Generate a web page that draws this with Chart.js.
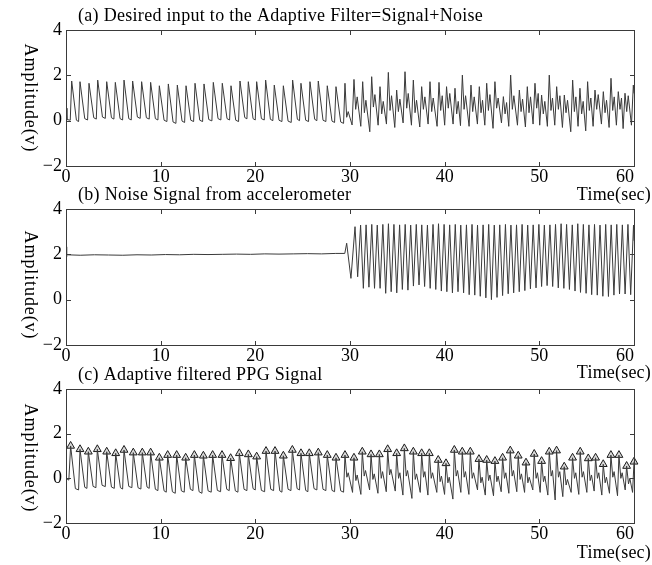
<!DOCTYPE html>
<html><head><meta charset="utf-8">
<script src="https://cdn.jsdelivr.net/npm/chart.js@4.4.1/dist/chart.umd.min.js"></script>
<style>
html,body{margin:0;padding:0;background:#fff;}
body{width:652px;height:565px;position:relative;overflow:hidden;}
canvas{position:absolute;left:0;}
</style>
</head><body>
<canvas id="ca" width="652" height="210" style="top:0px"></canvas>
<canvas id="cb" width="652" height="210" style="top:179px"></canvas>
<canvas id="cc" width="652" height="206" style="top:359px"></canvas>
<script>
// ---------- tick labels / texts ----------
const xTicks = [0, 10, 20, 30, 40, 50, 60];
const yTicks = [-2, 0, 2, 4];
const panelTitles = [
  "(a) Desired input to the Adaptive Filter=Signal+Noise",
  "(b) Noise Signal from accelerometer",
  "(c) Adaptive filtered PPG Signal"
];
const xTitle = "Time(sec)";
const yTitle = "Amplitude(v)";

// ---------- panel (a): desired input = signal + noise ----------
const aEdgeTime = [0, 0.10, 0.45, 60.00];
const aEdgeAmp  = [0.55, 0.05, 0.02, 1.20];
const aPeakTime = [0.60, 1.48, 2.43, 3.35, 4.30, 5.21, 6.13, 7.04, 7.99, 8.94, 9.86, 10.81, 11.76, 12.68, 13.63, 14.58, 15.56, 16.51, 17.43, 18.38, 19.26, 20.14, 21.09, 22.00, 22.96, 23.94, 24.82, 25.77, 26.65, 27.60, 28.52, 29.47,
  30.42, 31.34, 32.29, 33.17, 34.05, 34.93, 35.81, 36.69, 37.57, 38.45, 39.40, 40.20, 41.09, 41.87, 42.78, 43.66, 44.44, 45.31, 46.20, 46.97, 47.89, 48.73, 49.54, 50.24, 51.05, 51.83, 52.64, 53.52, 54.29, 55.10, 55.88, 56.76, 57.57, 58.34, 59.05, 59.93];
const aPeakAmp = [1.75, 1.72, 1.65, 1.79, 1.72, 1.69, 1.79, 1.75, 1.72, 1.69, 1.54, 1.62, 1.57, 1.54, 1.65, 1.62, 1.69, 1.65, 1.54, 1.75, 1.72, 1.72, 1.79, 1.57, 1.54, 1.79, 1.65, 1.72, 1.75, 1.54, 1.50, 1.65,
  1.82, 1.72, 1.94, 1.50, 2.13, 1.35, 2.16, 1.79, 1.50, 1.72, 1.69, 1.50, 1.43, 2.01, 1.57, 1.50, 1.65, 1.72, 1.06, 2.01, 1.35, 1.50, 1.65, 1.13, 2.01, 1.50, 1.13, 1.79, 1.43, 1.72, 1.35, 1.28, 1.87, 1.28, 1.21, 1.57];
const aFootTime = [1.10, 1.98, 2.93, 3.85, 4.80, 5.71, 6.63, 7.54, 8.49, 9.44, 10.36, 11.31, 12.26, 13.18, 14.13, 15.08, 16.06, 17.01, 17.93, 18.88, 19.76, 20.64, 21.59, 22.50, 23.46, 24.44, 25.32, 26.27, 27.15, 28.10, 29.02];
const aFootAmp  = [0.02, 0.09, 0.13, 0.16, 0.13, 0.09, 0.09, 0.16, 0.13, 0.09, 0.02, -0.06, -0.02, 0.02, 0.02, 0.05, 0.09, 0.09, 0.02, 0.14, 0.09, 0.09, 0.06, 0.02, -0.02, 0.06, 0.02, 0.06, 0.02, -0.02, -0.06];
const aTroughTime = [1.33, 2.28, 3.20, 4.15, 5.06, 5.98, 6.89, 7.84, 8.79, 9.71, 10.66, 11.61, 12.53, 13.48, 14.43, 15.41, 16.36, 17.28, 18.23, 19.11, 19.99, 20.94, 21.85, 22.81, 23.79, 24.67, 25.62, 26.50, 27.45, 28.37, 29.32,
  30.22, 31.14, 32.09, 32.97, 33.85, 34.73, 35.61, 36.49, 37.37, 38.25, 39.20, 40.00, 40.89, 41.67, 42.58, 43.46, 44.24, 45.11, 46.00, 46.77, 47.69, 48.53, 49.34, 50.04, 50.85, 51.63, 52.44, 53.32, 54.09, 54.90, 55.68, 56.56, 57.37, 58.14, 58.85, 59.73];
const aTroughAmp = [-0.04, 0.03, 0.07, 0.10, 0.07, 0.03, 0.03, 0.10, 0.07, 0.03, -0.04, -0.12, -0.08, -0.04, -0.04, -0.01, 0.03, 0.03, -0.04, 0.08, 0.03, 0.03, 0.00, -0.04, -0.08, 0.00, -0.04, 0.00, -0.04, -0.08, -0.12,
  -0.19, -0.25, -0.49, -0.20, -0.15, -0.30, -0.10, -0.20, -0.28, -0.15, -0.25, -0.20, -0.15, -0.22, -0.25, -0.15, -0.20, -0.34, -0.10, -0.25, -0.20, -0.28, -0.15, -0.20, -0.25, -0.20, -0.30, -0.49, -0.25, -0.45, -0.25, -0.15, -0.30, -0.20, -0.35, -0.20];
const aDipTime = [29.65, 30.60, 31.52, 32.47, 33.35, 34.23, 35.11, 35.99, 36.87, 37.75, 38.63, 39.58, 40.38, 41.27, 42.05, 42.96, 43.84, 44.62, 45.49, 46.38, 47.15, 48.07, 48.91, 49.72, 50.42, 51.23, 52.01, 52.82, 53.70, 54.47, 55.28, 56.06, 56.94, 57.75, 58.52, 59.23];
const aDipAmp  = [0.15, 0.50, 0.35, 0.60, 0.30, 0.45, 0.40, 0.55, 0.35, 0.50, 0.40, 0.45, 0.55, 0.30, 0.50, 0.40, 0.35, 0.45, 0.55, 0.30, 0.50, 0.40, 0.35, 0.55, 0.30, 0.45, 0.50, 0.35, 0.40, 0.30, 0.45, 0.50, 0.35, 0.45, 0.50, 0.40];
const aBumpTime = [29.81, 30.76, 31.68, 32.63, 33.51, 34.39, 35.27, 36.15, 37.03, 37.91, 38.79, 39.74, 40.54, 41.43, 42.21, 43.12, 44.00, 44.78, 45.65, 46.54, 47.31, 48.23, 49.07, 49.88, 50.58, 51.39, 52.17, 52.98, 53.86, 54.63, 55.44, 56.22, 57.10, 57.91, 58.68, 59.39];
const aBumpAmp  = [0.40, 1.05, 0.90, 1.15, 0.85, 1.10, 0.95, 1.20, 0.90, 1.05, 1.00, 1.10, 1.20, 0.85, 1.10, 1.05, 0.90, 1.15, 1.00, 0.80, 1.10, 0.95, 1.05, 1.20, 0.85, 1.00, 1.10, 0.90, 1.05, 0.85, 1.00, 1.15, 0.90, 1.05, 1.00, 1.10];

// ---------- panel (b): accelerometer noise ----------
const bFlatTime = [0, 0.04, 0.10, 1.5, 3, 4.5, 6, 7.5, 9, 10.5, 12, 13.5, 15, 16.5, 18, 19.5, 21, 22.5, 24, 25.5, 27, 28.5, 29.45, 29.65, 30.10];
const bFlatAmp  = [2.33, 1.89, 1.98, 1.96, 1.98, 1.97, 1.96, 1.98, 1.97, 1.99, 1.98, 2.00, 1.99, 2.00, 2.01, 2.00, 2.02, 2.01, 2.02, 2.03, 2.02, 2.04, 2.04, 2.49, 0.94];
const bPeakTime = [30.53, 31.12, 31.70, 32.30, 32.88, 33.47, 34.06, 34.64, 35.24, 35.83, 36.41, 37.00, 37.58, 38.18, 38.77, 39.35, 39.94, 40.53, 41.12, 41.70, 42.30, 42.89, 43.47, 44.06, 44.65, 45.24, 45.82, 46.42, 47.00, 47.59, 48.18, 48.77, 49.35, 49.95, 50.53, 51.12, 51.71, 52.30, 52.88, 53.48, 54.06, 54.65, 55.24, 55.83, 56.41, 57.01, 57.59, 58.18, 58.77, 59.36, 59.95];
const bPeakAmp  = [3.22, 3.29, 3.30, 3.32, 3.29, 3.32, 3.35, 3.32, 3.30, 3.32, 3.29, 3.32, 3.30, 3.29, 3.32, 3.35, 3.32, 3.30, 3.32, 3.29, 3.30, 3.32, 3.29, 3.30, 3.32, 3.29, 3.30, 3.32, 3.29, 3.30, 3.32, 3.29, 3.30, 3.32, 3.29, 3.30, 3.32, 3.35, 3.32, 3.30, 3.35, 3.32, 3.30, 3.32, 3.29, 3.32, 3.30, 3.32, 3.30, 3.32, 3.29];
const bTroughTime = [30.81, 31.41, 32.00, 32.59, 33.18, 33.77, 34.35, 34.94, 35.53, 36.12, 36.70, 37.29, 37.88, 38.47, 39.06, 39.65, 40.23, 40.82, 41.41, 42.00, 42.59, 43.18, 43.76, 44.35, 44.94, 45.53, 46.12, 46.71, 47.29, 47.88, 48.47, 49.06, 49.65, 50.24, 50.82, 51.41, 52.00, 52.59, 53.18, 53.77, 54.35, 54.94, 55.53, 56.12, 56.71, 57.30, 57.88, 58.47, 59.06, 59.65, 60.00];
const bTroughAmp  = [1.01, 0.50, 0.55, 0.50, 0.50, 0.28, 0.35, 0.30, 0.45, 0.42, 0.60, 0.65, 0.58, 0.50, 0.45, 0.38, 0.35, 0.30, 0.35, 0.30, 0.22, 0.20, 0.15, 0.08, 0.00, 0.10, 0.18, 0.26, 0.30, 0.35, 0.40, 0.48, 0.52, 0.58, 0.62, 0.58, 0.52, 0.50, 0.45, 0.38, 0.32, 0.28, 0.22, 0.20, 0.15, 0.14, 0.20, 0.25, 0.25, 0.22, 2.60];

// ---------- panel (c): adaptive filtered PPG ----------
const cEdgeTime = [0, 0.30];
const cEdgeAmp  = [0.00, -0.08];
const cPeakTime = [0.49, 1.48, 2.36, 3.31, 4.30, 5.25, 6.13, 7.11, 8.06, 8.94, 9.86, 10.74, 11.69, 12.64, 13.56, 14.51, 15.49, 16.48, 17.39, 18.31, 19.26, 20.14, 21.13, 22.08, 22.96, 23.91, 24.82, 25.70, 26.65, 27.60, 28.52, 29.47,
  30.42, 31.30, 32.22, 33.10, 33.98, 34.93, 35.74, 36.69, 37.57, 38.38, 39.32, 40.14, 41.02, 41.86, 42.71, 43.62, 44.44, 45.31, 46.12, 46.93, 47.77, 48.59, 49.46, 50.24, 51.05, 51.82, 52.63, 53.51, 54.32, 55.17, 55.94, 56.75, 57.56, 58.41, 59.22, 60.00];
const cPeakAmp = [1.45, 1.30, 1.19, 1.30, 1.19, 1.12, 1.27, 1.15, 1.15, 1.15, 0.92, 1.04, 1.04, 0.92, 1.04, 1.01, 1.04, 1.04, 0.90, 1.12, 1.07, 0.97, 1.22, 1.22, 1.01, 1.27, 1.12, 1.12, 1.15, 1.04, 0.92, 1.04,
  0.92, 1.19, 1.07, 1.07, 1.30, 1.12, 1.34, 1.19, 1.12, 1.12, 0.82, 0.67, 1.27, 1.19, 1.19, 0.86, 0.82, 0.77, 0.92, 1.24, 1.01, 0.70, 1.09, 0.77, 1.19, 1.24, 0.52, 0.92, 1.19, 0.89, 0.92, 0.63, 1.04, 1.04, 0.55, 0.74];
const cFootTime = [0.99, 1.98, 2.86, 3.81, 4.80, 5.75, 6.63, 7.61, 8.56, 9.44, 10.36, 11.24, 12.19, 13.14, 14.06, 15.01, 15.99, 16.98, 17.89, 18.81, 19.76, 20.64, 21.63, 22.58, 23.46, 24.41, 25.32, 26.20, 27.15, 28.10, 29.02];
const cFootAmp  = [-0.46, -0.40, -0.36, -0.31, -0.39, -0.42, -0.36, -0.42, -0.39, -0.49, -0.56, -0.60, -0.56, -0.49, -0.60, -0.56, -0.54, -0.49, -0.56, -0.49, -0.46, -0.54, -0.49, -0.56, -0.49, -0.46, -0.54, -0.46, -0.49, -0.54, -0.56];
const cTroughTime = [1.33, 2.21, 3.16, 4.15, 5.10, 5.98, 6.96, 7.91, 8.79, 9.71, 10.59, 11.54, 12.49, 13.41, 14.36, 15.34, 16.33, 17.24, 18.16, 19.11, 19.99, 20.98, 21.93, 22.81, 23.76, 24.67, 25.55, 26.50, 27.45, 28.37, 29.32,
  30.27, 31.15, 32.07, 32.95, 33.83, 34.78, 35.59, 36.54, 37.42, 38.23, 39.17, 39.99, 40.87, 41.71, 42.56, 43.47, 44.29, 45.16, 45.97, 46.78, 47.62, 48.44, 49.31, 50.09, 50.90, 51.67, 52.48, 53.36, 54.17, 55.02, 55.79, 56.60, 57.41, 58.26, 59.07, 59.85];
const cTroughAmp = [-0.52, -0.45, -0.42, -0.37, -0.45, -0.48, -0.42, -0.48, -0.45, -0.55, -0.62, -0.67, -0.62, -0.55, -0.67, -0.62, -0.60, -0.55, -0.62, -0.55, -0.52, -0.60, -0.55, -0.62, -0.55, -0.52, -0.60, -0.52, -0.55, -0.60, -0.62,
  -0.63, -0.72, -0.52, -0.67, -0.60, -0.57, -0.75, -0.90, -0.63, -0.75, -0.63, -0.72, -0.93, -0.63, -0.72, -0.52, -0.75, -0.78, -0.60, -0.67, -0.60, -0.63, -0.52, -0.63, -0.75, -0.97, -0.82, -0.63, -0.72, -0.63, -0.57, -0.75, -0.67, -0.78, -0.52, -0.63];
const cDipTime = [29.67, 30.62, 31.50, 32.42, 33.30, 34.18, 35.13, 35.94, 36.89, 37.77, 38.58, 39.52, 40.34, 41.22, 42.06, 42.91, 43.82, 44.64, 45.51, 46.32, 47.13, 47.97, 48.79, 49.66, 50.44, 51.25, 52.02, 52.83, 53.71, 54.52, 55.37, 56.14, 56.95, 57.76, 58.61, 59.42];
const cDipAmp  = [0.05, -0.10, 0.10, -0.05, 0.00, 0.15, 0.00, 0.10, -0.05, 0.05, 0.00, -0.15, -0.20, 0.10, 0.05, 0.00, -0.20, -0.10, -0.15, 0.00, 0.10, -0.05, -0.20, 0.00, -0.15, 0.10, 0.05, -0.30, 0.00, 0.05, -0.10, 0.00, -0.20, 0.05, 0.00, -0.25];
const cBumpTime = [29.81, 30.76, 31.64, 32.56, 33.44, 34.32, 35.27, 36.08, 37.03, 37.91, 38.72, 39.66, 40.48, 41.36, 42.20, 43.05, 43.96, 44.78, 45.65, 46.46, 47.27, 48.11, 48.93, 49.80, 50.58, 51.39, 52.16, 52.97, 53.85, 54.66, 55.51, 56.28, 57.09, 57.90, 58.75, 59.56];
const cBumpAmp  = [0.25, 0.15, 0.35, 0.20, 0.30, 0.40, 0.25, 0.35, 0.20, 0.30, 0.25, 0.10, 0.05, 0.35, 0.30, 0.25, 0.05, 0.15, 0.10, 0.25, 0.35, 0.20, 0.05, 0.25, 0.10, 0.35, 0.30, -0.05, 0.25, 0.30, 0.15, 0.25, 0.05, 0.30, 0.25, 0.00];

// ---------- helpers ----------
function series(...pairs) {
  const pts = [];
  pairs.forEach(([ts, vs]) => ts.forEach((t, i) => { if (vs[i] !== undefined) pts.push({x: t, y: vs[i]}); }));
  pts.sort((p, q) => p.x - q.x);
  return pts;
}
const FONT = 'Liberation Serif';

const frame = {
  id: 'frame',
  afterDraw(chart, args, o) {
    const {ctx, chartArea: {left, right, top, bottom}, scales: {x, y}} = chart;
    ctx.save();
    ctx.strokeStyle = '#3a3a3a';
    ctx.lineWidth = 1;
    ctx.strokeRect(left + 0.5, top + 0.5, right - left, bottom - top);
    ctx.beginPath();
    x.ticks.forEach(t => {
      if (t.value <= x.min || t.value >= x.max) return;
      const px = Math.round(x.getPixelForValue(t.value)) + 0.5;
      ctx.moveTo(px, top); ctx.lineTo(px, top + 5);
      ctx.moveTo(px, bottom + 1); ctx.lineTo(px, bottom - 4);
    });
    y.ticks.forEach(t => {
      if (t.value <= y.min || t.value >= y.max) return;
      const py = Math.round(y.getPixelForValue(t.value)) + 0.5;
      ctx.moveTo(left, py); ctx.lineTo(left + 5, py);
      ctx.moveTo(right + 1, py); ctx.lineTo(right - 4, py);
    });
    ctx.stroke();
    ctx.fillStyle = '#000';
    ctx.font = '18px "' + FONT + '"';
    ctx.textBaseline = 'middle';
    ctx.textAlign = 'left';
    ctx.letterSpacing = '0.3px';
    ctx.fillText(o.title, 78, top + o.titleDy);
    ctx.textAlign = 'right';
    ctx.letterSpacing = '0.2px';
    ctx.fillText(xTitle, 651, bottom + o.timeDy);
    ctx.translate(30, (top + bottom) / 2 + o.ylabDy);
    ctx.rotate(Math.PI / 2);
    ctx.textAlign = 'center';
    ctx.letterSpacing = '0.9px';
    ctx.fillText(yTitle, 0, 0);
    ctx.restore();
  }
};

function makePanel(id, datasets, cfg) {
  return new Chart(document.getElementById(id), {
    type: 'line',
    data: {datasets},
    options: {
      responsive: false, animation: false, devicePixelRatio: 1,
      layout: {padding: {left: 0, right: 18, top: 30, bottom: cfg.padBottom}},
      plugins: {legend: {display: false}, tooltip: {enabled: false},
        frame: {title: cfg.title, titleDy: cfg.titleDy, timeDy: cfg.timeDy, ylabDy: cfg.ylabDy}},
      elements: {line: {tension: 0}},
      scales: {
        x: {type: 'linear', min: 0, max: 60,
          afterBuildTicks(s) { s.ticks = xTicks.map(v => ({value: v})); },
          afterFit(s) { s.height = cfg.xAxisH; },
          grid: {display: false, drawTicks: false}, border: {display: false},
          ticks: {font: {family: FONT, size: 18}, color: '#000', padding: 0, maxRotation: 0, autoSkip: false,
            callback(v) { return v === 60 ? '60\u2002\u2002' : String(v); }}},
        y: {type: 'linear', min: -2, max: 4,
          afterBuildTicks(s) { s.ticks = yTicks.map(v => ({value: v})); },
          afterFit(s) { s.width = 66; },
          grid: {display: false, drawTicks: false}, border: {display: false},
          ticks: {font: {family: FONT, size: 18}, color: '#000', padding: 4,
            callback(v) { return v < 0 ? '\u2212' + Math.abs(v) : String(v); }}}
      }
    },
    plugins: [frame]
  });
}

const lineStyle = {borderColor: '#3a3a3a', borderWidth: 1, pointRadius: 0, fill: false};

makePanel('ca', [
  Object.assign({data: series([aEdgeTime, aEdgeAmp], [aPeakTime, aPeakAmp], [aFootTime, aFootAmp], [aTroughTime, aTroughAmp], [aDipTime, aDipAmp], [aBumpTime, aBumpAmp])}, lineStyle)
], {title: panelTitles[0], titleDy: -14, timeDy: 29, ylabDy: 0, padBottom: 10, xAxisH: 34});

makePanel('cb', [
  Object.assign({data: series([bFlatTime, bFlatAmp], [bPeakTime, bPeakAmp], [bTroughTime, bTroughAmp])}, lineStyle)
], {title: panelTitles[1], titleDy: -14, timeDy: 28, ylabDy: 8, padBottom: 10, xAxisH: 34});

makePanel('cc', [
  Object.assign({data: series([cEdgeTime, cEdgeAmp], [cPeakTime, cPeakAmp], [cFootTime, cFootAmp], [cTroughTime, cTroughAmp], [cDipTime, cDipAmp], [cBumpTime, cBumpAmp])}, lineStyle),
  {data: series([cPeakTime, cPeakAmp]), showLine: false, pointStyle: 'triangle', pointRadius: 4.5,
   pointBackgroundColor: '#d8d8d8', pointBorderColor: '#1a1a1a', pointBorderWidth: 1, clip: false}
], {title: panelTitles[2], titleDy: -14, timeDy: 30, ylabDy: 2, padBottom: 0, xAxisH: 42});
</script>
</body></html>
